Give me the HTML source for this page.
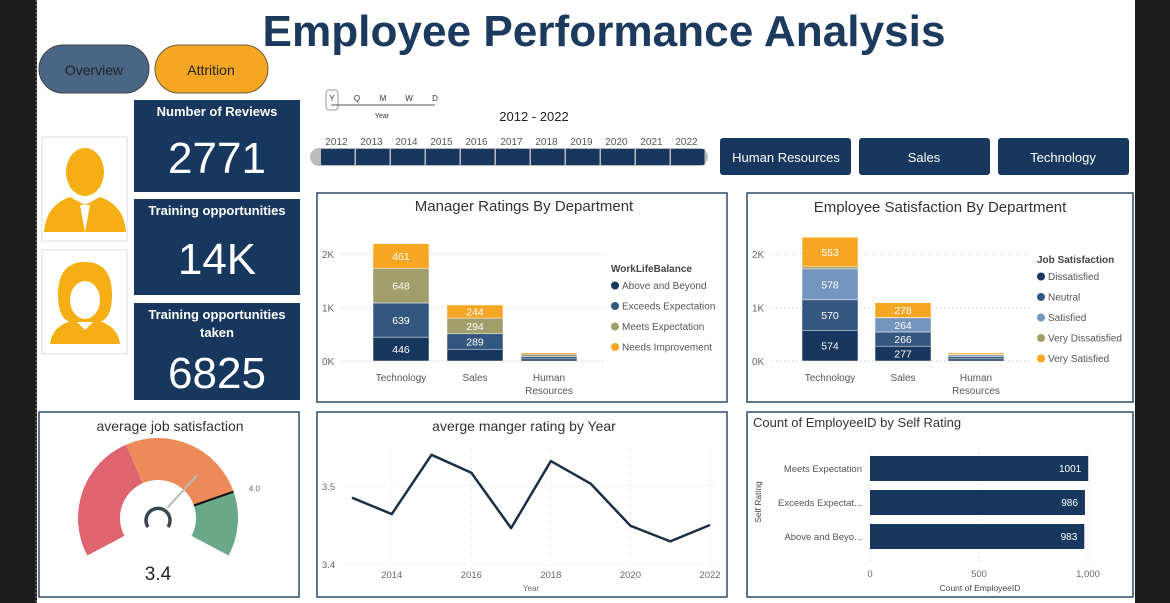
<!DOCTYPE html>
<html><head><meta charset="utf-8">
<style>
html,body{margin:0;padding:0;background:#1e1e1e;}
svg{display:block;font-family:"Liberation Sans",sans-serif;}
</style></head>
<body>
<svg width="1170" height="603" viewBox="0 0 1170 603" xmlns="http://www.w3.org/2000/svg">
<rect x="0" y="0" width="1170" height="603" fill="#1c1c1c"/>
<rect x="37" y="0" width="1098" height="603" fill="#ffffff"/>
<line x1="36" y1="0" x2="36" y2="603" stroke="#888" stroke-dasharray="2,2"/>
<text x="604" y="46" text-anchor="middle" font-size="44" font-weight="bold" fill="#1c3a5e" textLength="683" lengthAdjust="spacingAndGlyphs">Employee Performance Analysis</text>

<rect x="39" y="45" width="110" height="48" rx="24" fill="#4a6685" stroke="#444"/>
<text x="94" y="75" text-anchor="middle" font-size="14" fill="#222">Overview</text>
<rect x="155" y="45" width="113" height="48" rx="24" fill="#f5a623" stroke="#6b5a3a"/>
<text x="211" y="75" text-anchor="middle" font-size="14" fill="#222">Attrition</text>

<!-- KPI cards -->
<g>
<rect x="134" y="100" width="166" height="92" fill="#17375e"/>
<text x="217" y="116" text-anchor="middle" font-size="13" font-weight="bold" fill="#fff">Number of Reviews</text>
<text x="217" y="173" text-anchor="middle" font-size="44" fill="#fff">2771</text></g>
<g>
<rect x="134" y="199" width="166" height="96" fill="#17375e"/>
<text x="217" y="215" text-anchor="middle" font-size="13" font-weight="bold" fill="#fff">Training opportunities</text>
<text x="217" y="274" text-anchor="middle" font-size="44" fill="#fff">14K</text></g>
<g>
<rect x="134" y="303" width="166" height="97" fill="#17375e"/>
<text x="217" y="319" text-anchor="middle" font-size="13" font-weight="bold" fill="#fff">Training opportunities</text>
<text x="217" y="337" text-anchor="middle" font-size="13" font-weight="bold" fill="#fff">taken</text>
<text x="217" y="388" text-anchor="middle" font-size="44" fill="#fff">6825</text></g>

<!-- person icons -->
<g>
<rect x="42" y="137" width="85" height="104" fill="#fff" stroke="#ddd"/>
<ellipse cx="85" cy="172" rx="19" ry="24" fill="#f5ae14"/>
<path d="M44 232 Q46 205 70 197 L85 205 L100 197 Q124 205 126 232 Z" fill="#f5ae14"/>
<path d="M80 205 L85 232 L90 205 Z" fill="#fff"/></g>
<g>
<rect x="42" y="250" width="85" height="104" fill="#fff" stroke="#ddd"/>
<path d="M85 262 Q112 262 112 295 Q112 318 100 322 L70 322 Q58 318 58 295 Q58 262 85 262 Z" fill="#f5ae14"/>
<ellipse cx="85" cy="300" rx="15" ry="19" fill="#fff"/>
<path d="M50 344 Q52 325 75 320 L85 330 L95 320 Q118 325 120 344 Z" fill="#f5ae14"/></g>

<!-- date slicer -->
<g font-size="8" fill="#333">
<rect x="326" y="90" width="12" height="20" rx="3" fill="none" stroke="#999"/>
<line x1="331" y1="105" x2="435" y2="105" stroke="#555"/>
<text x="332" y="101" text-anchor="middle">Y</text><text x="357" y="101" text-anchor="middle">Q</text><text x="383" y="101" text-anchor="middle">M</text><text x="409" y="101" text-anchor="middle">W</text><text x="435" y="101" text-anchor="middle">D</text>
<text x="382" y="118" text-anchor="middle" font-size="7">Year</text></g>
<text x="534" y="121" text-anchor="middle" font-size="13" fill="#222">2012 - 2022</text>
<g id="slider"></g>

<g font-size="13" fill="#fff">
<rect x="720" y="138" width="131" height="37" rx="3" fill="#17375e"/><text x="786" y="162" text-anchor="middle">Human Resources</text>
<rect x="859" y="138" width="131" height="37" rx="3" fill="#17375e"/><text x="924" y="162" text-anchor="middle">Sales</text>
<rect x="998" y="138" width="131" height="37" rx="3" fill="#17375e"/><text x="1063" y="162" text-anchor="middle">Technology</text></g>

<!-- panels -->
<rect x="317" y="193" width="410" height="209" fill="#fff" stroke="#2c4a6a" stroke-width="1.5"/>
<rect x="747" y="193" width="386" height="209" fill="#fff" stroke="#2c4a6a" stroke-width="1.5"/>
<rect x="39" y="412" width="260" height="185" fill="#fff" stroke="#2c4a6a" stroke-width="1.5"/>
<rect x="317" y="412" width="410" height="185" fill="#fff" stroke="#2c4a6a" stroke-width="1.5"/>
<rect x="747" y="412" width="386" height="185" fill="#fff" stroke="#2c4a6a" stroke-width="1.5"/>

<text x="524" y="211" text-anchor="middle" font-size="15" fill="#333">Manager Ratings By Department</text>
<text x="940" y="212" text-anchor="middle" font-size="15" fill="#333">Employee Satisfaction By Department</text>
<text x="170" y="431" text-anchor="middle" font-size="14" fill="#333">average job satisfaction</text>
<text x="524" y="431" text-anchor="middle" font-size="14" fill="#333">averge manger rating by Year</text>
<text x="753" y="427" font-size="13" fill="#333">Count of EmployeeID by Self Rating</text>

<g id="mgr"></g><g id="sat"></g><g id="gauge"></g><g id="line"></g><g id="hbar"></g>
</svg>
<script>
const NS="http://www.w3.org/2000/svg";
function mk(p,t,a,txt){const e=document.createElementNS(NS,t);for(const k in a)e.setAttribute(k,a[k]);if(txt!==undefined)e.textContent=txt;p.appendChild(e);return e;}

// slider data
const sliderYears=[2012,2013,2014,2015,2016,2017,2018,2019,2020,2021,2022];
// manager chart data
const mgrDepts=["Technology","Sales","Human Resources"];
const mgrSeries=["Above and Beyond","Exceeds Expectation","Meets Expectation","Needs Improvement"];
const mgrAbove=[446,220,40];
const mgrExceeds=[639,289,45];
const mgrMeets=[648,294,45];
const mgrNeeds=[461,244,25];
// satisfaction chart data
const satSeries=["Dissatisfied","Neutral","Satisfied","Very Dissatisfied","Very Satisfied"];
const satDissat=[574,277,40];
const satNeutral=[570,266,40];
const satSatisfied=[578,264,35];
const satVeryDissat=[40,5,5];
const satVerySat=[553,278,30];
const stackTicks=["0K","1K","2K"];
// line data
const lineYears=[2013,2014,2015,2016,2017,2018,2019,2020,2021,2022];
const lineValues=[3.485,3.464,3.54,3.517,3.446,3.532,3.503,3.449,3.429,3.45];
const lineXTicks=[2014,2016,2018,2020,2022];
const lineYTicks=[3.4,3.5];
// gauge data
const gaugeValue=[3.4];
const gaugeTarget=[4.0];
const gaugeBands=[0,2,4,5];
// self rating data
const selfCats=["Meets Expectation","Exceeds Expectat...","Above and Beyo..."];
const selfValues=[1001,986,983];
const selfTicks=[0,500,1000];
const selfTickLabels=["0","500","1,000"];

// slider
(function(){const g=document.getElementById('slider');
mk(g,'rect',{x:310,y:148,width:398,height:18,rx:9,fill:'#bbb'});
const x0=321,w=35;
sliderYears.forEach((y,i)=>{
 const t=mk(g,'text',{x:x0+i*w+w/2-2,y:145,'text-anchor':'middle','font-size':10,fill:'#555'},y);
 
 
 const r=mk(g,'rect',{x:x0+i*w,y:149,width:w-1.5,height:16,fill:'#17375e'});
 
 
});})();

function stacked(gid,ox,xs,bw,series,colors,names,legendTitle,lx,lyStart){
 const g=document.getElementById(gid);
 const y0=361,per=53.5/1000;
 const ys=v=>y0-v*per;
 stackTicks.forEach((t,i)=>{
  const y=ys(i*1000);
  const l=mk(g,'line',{x1:ox+20,y1:y,x2:lx-8,y2:y,stroke:'#bbb','stroke-dasharray':'1,3'});
  
  
  const tx=mk(g,'text',{x:ox,y:y+4,'font-size':10,fill:'#666'},t);
  
  
 });
 mgrDepts.forEach((d,i)=>{
  let acc=0;
  series.forEach((s,k)=>{
   const v=s[i];const yTop=ys(acc+v),h=v*per;
   const r=mk(g,'rect',{x:xs[i],y:yTop,width:bw,height:h,fill:colors[k],stroke:'#fff','stroke-width':0.5});
   
   
   if(v>150&&i<2&&!(i===1&&k===0&&gid==='mgr')){
    const t=mk(g,'text',{x:xs[i]+bw/2,y:yTop+h/2+4,'text-anchor':'middle','font-size':10.5,fill:'#fff'},v);
    
    
   }
   acc+=v;
  });
  const parts=d==="Human Resources"?["Human","Resources"]:[d];
  parts.forEach((p,j)=>{const t=mk(g,'text',{x:xs[i]+bw/2,y:381+j*13,'text-anchor':'middle','font-size':10,fill:'#555'},p);
   
   });
 });
 const lt=mk(g,'text',{x:lx,y:lyStart,'font-size':10,'font-weight':'bold',fill:'#444'},legendTitle);
 
 
 names.forEach((n,k)=>{
  const y=lyStart+17+k*20.5;
  const c=mk(g,'circle',{cx:lx+4,cy:y-3.5,r:4,fill:colors[k]});
  
  
  const t=mk(g,'text',{x:lx+11,y:y,'font-size':10,fill:'#555'},n);
  
  
 });
}
stacked('mgr',322,[373,447,521],56,[mgrAbove,mgrExceeds,mgrMeets,mgrNeeds],['#17375e','#34577f','#a09e6a','#f5a623'],mgrSeries,'WorkLifeBalance',611,272);
stacked('sat',752,[802,875,948],56,[satDissat,satNeutral,satSatisfied,satVeryDissat,satVerySat],['#17375e','#34577f','#7394bd','#a09e6a','#f5a623'],satSeries,'Job Satisfaction',1037,263);

// gauge
(function(){const g=document.getElementById('gauge');
 const cx=158,cy=518,R=80,r=38,a0=-118,a1=118,mn=gaugeBands[0],mx=gaugeBands[gaugeBands.length-1];
 const ang=v=>(a0+(v-mn)/(mx-mn)*(a1-a0))*Math.PI/180;
 const pt=(v,rad)=>[cx+rad*Math.sin(ang(v)),cy-rad*Math.cos(ang(v))];
 const cols=['#e06470','#ec8a5a','#6aa889'];
 for(let i=0;i<gaugeBands.length-1;i++){
  const a=gaugeBands[i],b=gaugeBands[i+1];
  const p1=pt(a,R),p2=pt(b,R),p3=pt(b,r),p4=pt(a,r);
  const large=(ang(b)-ang(a))>Math.PI?1:0;
  const p=mk(g,'path',{d:`M${p1} A${R},${R} 0 ${large} 1 ${p2} L${p3} A${r},${r} 0 ${large} 0 ${p4} Z`,fill:cols[i]});
  
  
 }
 const t1=pt(gaugeTarget[0],r),t2=pt(gaugeTarget[0],R);
 const tl=mk(g,'line',{x1:t1[0],y1:t1[1],x2:t2[0],y2:t2[1],stroke:'#111','stroke-width':2});
 
 
 const tp=pt(gaugeTarget[0],R+12);
 const tt=mk(g,'text',{x:tp[0]+4,y:tp[1]+4,'font-size':8,fill:'#666'},gaugeTarget[0].toFixed(1));
 
 
 const n1=pt(gaugeValue[0],14),n2=pt(gaugeValue[0],58);
 const nd=mk(g,'line',{x1:n1[0],y1:n1[1],x2:n2[0],y2:n2[1],stroke:'#bbb','stroke-width':2});
 
 
 const hub=mk(g,'path',{d:`M${cx-10},${cy+9} A12,12 0 1 1 ${cx+10},${cy+9}`,fill:'none',stroke:'#3a4650','stroke-width':3.5});
 
 
 const vt=mk(g,'text',{x:cx,y:580,'text-anchor':'middle','font-size':19,fill:'#222'},gaugeValue[0].toFixed(1));
 
 
})();

// line chart
(function(){const g=document.getElementById('line');
 const xs=y=>352+(y-2013)*(710-352)/9;
 const ys=v=>564-(v-3.4)*780;
 lineXTicks.forEach(y=>{
  const l=mk(g,'line',{x1:xs(y),y1:448,x2:xs(y),y2:564,stroke:'#ddd','stroke-dasharray':'1,3'});
  
  
  const t=mk(g,'text',{x:xs(y),y:578,'text-anchor':'middle','font-size':9.5,fill:'#666'},y);
  
  
 });
 lineYTicks.forEach(v=>{
  const l=mk(g,'line',{x1:345,y1:ys(v),x2:715,y2:ys(v),stroke:'#ddd','stroke-dasharray':'1,3'});
  
  
  const t=mk(g,'text',{x:322,y:ys(v)+4,'font-size':9.5,fill:'#666'},v.toFixed(1));
  
  
 });
 const p=mk(g,'polyline',{points:lineYears.map((y,i)=>xs(y)+','+ys(lineValues[i])).join(' '),fill:'none',stroke:'#1b2f45','stroke-width':2.5,'stroke-linejoin':'round'});
 
 
 const xt=mk(g,'text',{x:531,y:591,'text-anchor':'middle','font-size':8,fill:'#666'},'Year');
 
 
})();

// horizontal bar chart
(function(){const g=document.getElementById('hbar');
 const xs=v=>870+v*0.218;
 selfTicks.forEach((t,i)=>{
  const l=mk(g,'line',{x1:xs(t),y1:448,x2:xs(t),y2:562,stroke:'#ccc','stroke-dasharray':'1,3'});
  
  
  const tx=mk(g,'text',{x:xs(t),y:577,'text-anchor':'middle','font-size':9.5,fill:'#666'},selfTickLabels[i]);
  
  
 });
 selfCats.forEach((c,i)=>{
  const y=456+i*34;
  const r=mk(g,'rect',{x:xs(0),y:y,width:xs(selfValues[i])-xs(0),height:25,fill:'#17375e'});
  
  
  const v=mk(g,'text',{x:xs(selfValues[i])-7,y:y+16,'text-anchor':'end','font-size':10,fill:'#fff'},selfValues[i]);
  
  
  const t=mk(g,'text',{x:862,y:y+16,'text-anchor':'end','font-size':9.5,fill:'#555'},c);
  
  
 });
 const xt=mk(g,'text',{x:980,y:591,'text-anchor':'middle','font-size':8.5,fill:'#444'},'Count of EmployeeID');
 
 
 const yt=mk(g,'text',{x:0,y:0,'text-anchor':'middle','font-size':8.5,fill:'#444',transform:'translate(761,502) rotate(-90)'},'Self Rating');
 
 
})();
</script>
</body></html>
